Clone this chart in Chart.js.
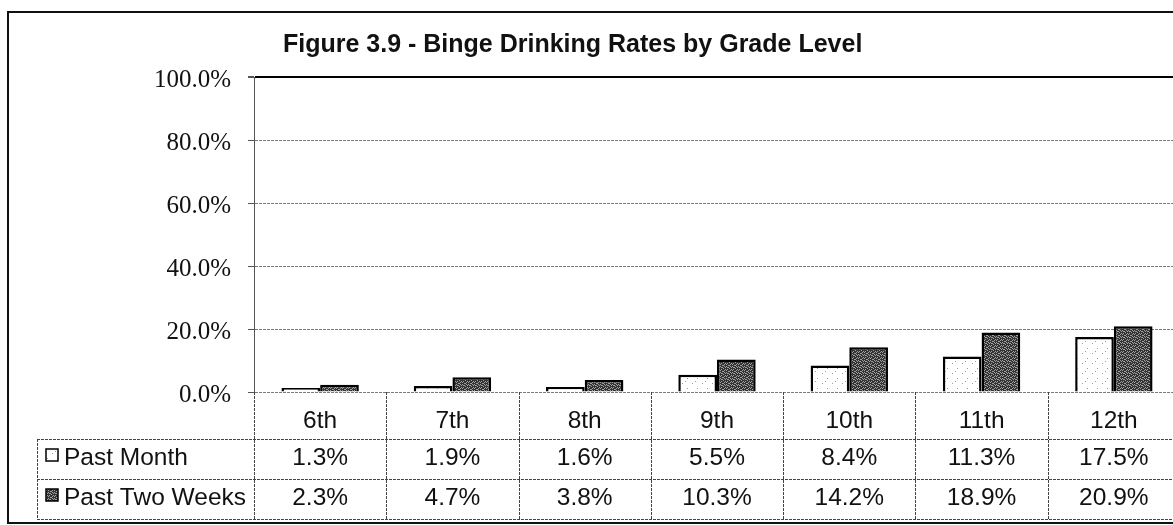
<!DOCTYPE html>
<html><head><meta charset="utf-8">
<script src="https://cdn.jsdelivr.net/npm/chart.js@4.4.1/dist/chart.umd.min.js"></script>
<style>html,body{margin:0;padding:0;background:#fff;overflow:hidden;} #wrap{width:1200px;height:525px;}</style>
</head><body><div id="wrap"><canvas id="c" width="1200" height="525"></canvas></div>
<script>
const titleText = 'Figure 3.9 - Binge Drinking Rates by Grade Level';
const grades = ['6th', '7th', '8th', '9th', '10th', '11th', '12th'];
const seriesNames = ['Past Month', 'Past Two Weeks'];
const pastMonth = [1.3, 1.9, 1.6, 5.5, 8.4, 11.3, 17.5];
const pastTwoWeeks = [2.3, 4.7, 3.8, 10.3, 14.2, 18.9, 20.9];
const yMin = 0, yMax = 100, yStep = 20;

function makePattern(bg, fg, pts, size) {
  const c = document.createElement('canvas');
  c.width = size; c.height = size;
  const g = c.getContext('2d');
  g.fillStyle = bg; g.fillRect(0, 0, size, size);
  g.fillStyle = fg;
  pts.forEach(p => g.fillRect(p[0], p[1], 1, 1));
  return g.createPattern(c, 'repeat');
}
const lightPat = makePattern('#ffffff', '#9a9a9a', [[2,3],[7,8],[5,1]], 10);
const darkPat = makePattern('#333333', '#a0a0a0',
  [[0,0],[2,1],[4,0],[1,3],[3,2],[5,3],[0,4],[2,5],[4,4],[5,1],[1,1],[3,5]], 6);

const fmt = v => v.toFixed(1) + '%';

const frameTable = {
  id: 'frameTable',
  afterDraw(chart) {
    const ctx = chart.ctx;
    const xs = chart.scales.x;
    const ca = chart.chartArea;
    ctx.save();
    // outer frame
    ctx.strokeStyle = '#111'; ctx.lineWidth = 2; ctx.setLineDash([]);
    ctx.strokeRect(8, 12, 1185, 511);
    // title
    ctx.fillStyle = '#111';
    ctx.font = 'bold 25px "Liberation Sans", Arial, sans-serif';
    ctx.textAlign = 'left'; ctx.textBaseline = 'alphabetic';
    ctx.fillText(titleText, 283, 52);

    // table grid
    const step = xs.getPixelForValue(1) - xs.getPixelForValue(0);
    const rowTops = [439, 479];
    const bottom = 519;
    const tableLeft = 37;
    ctx.strokeStyle = '#444'; ctx.lineWidth = 1; ctx.setLineDash([3, 1]);
    ctx.beginPath();
    rowTops.concat([bottom]).forEach(y => { ctx.moveTo(tableLeft, y + 0.5); ctx.lineTo(ca.right, y + 0.5); });
    ctx.moveTo(tableLeft + 0.5, rowTops[0]); ctx.lineTo(tableLeft + 0.5, bottom);
    for (let i = 0; i <= grades.length; i++) {
      const x = Math.round(xs.getPixelForValue(i) - step / 2) + 0.5;
      ctx.moveTo(x, ca.bottom); ctx.lineTo(x, bottom);
    }
    ctx.stroke();
    ctx.setLineDash([]);

    // legend column
    const baselines = [465, 505];
    const pats = [lightPat, darkPat];
    ctx.font = '24.5px "Liberation Sans", Arial, sans-serif';
    seriesNames.forEach((name, r) => {
      ctx.fillStyle = pats[r];
      ctx.fillRect(46, baselines[r] - 16, 12, 12);
      ctx.strokeStyle = '#000'; ctx.lineWidth = 1.5;
      ctx.strokeRect(46, baselines[r] - 16, 12, 12);
      ctx.fillStyle = '#111'; ctx.textAlign = 'left';
      ctx.fillText(name, 64, baselines[r]);
    });
    // values
    const rows = [pastMonth, pastTwoWeeks];
    ctx.textAlign = 'center';
    rows.forEach((vals, r) => {
      vals.forEach((v, i) => {
        ctx.fillText(fmt(v), xs.getPixelForValue(i), baselines[r]);
      });
    });
    ctx.restore();
  }
};

new Chart(document.getElementById('c'), {
  type: 'bar',
  data: {
    labels: grades,
    datasets: [
      { label: seriesNames[0], data: pastMonth, backgroundColor: lightPat, borderColor: '#000', borderWidth: 2.5 },
      { label: seriesNames[1], data: pastTwoWeeks, backgroundColor: darkPat, borderColor: '#000', borderWidth: 2.5 }
    ]
  },
  options: {
    responsive: false,
    animation: false,
    devicePixelRatio: 1,
    categoryPercentage: 0.585,
    barPercentage: 1.0,
    layout: { padding: { left: 0, right: 20, top: 77, bottom: 0 } },
    plugins: { legend: { display: false }, title: { display: false }, tooltip: { enabled: false } },
    scales: {
      x: {
        grid: { display: false },
        border: { display: false },
        ticks: { color: '#111', font: { family: '"Liberation Sans", Arial, sans-serif', size: 24.5 }, padding: 7, maxRotation: 0 },
        afterFit: s => { s.height = 133; }
      },
      y: {
        min: yMin, max: yMax,
        ticks: { stepSize: yStep, callback: v => fmt(v), color: '#111', padding: 17, labelOffset: 3,
                 font: { family: '"Liberation Serif", "Times New Roman", serif', size: 25 } },
        grid: {
          color: c => (c.tick && c.tick.value === yMax) ? '#000' : '#7a7a7a',
          lineWidth: c => (c.tick && c.tick.value === yMax) ? 2 : 1,
          tickLength: 6, tickColor: '#555'
        },
        border: { display: true, color: '#555', width: 1,
                  dash: c => (c.tick && c.tick.value === yMax) ? [] : [3, 1] },
        afterFit: s => { s.width = 254; }
      }
    }
  },
  plugins: [frameTable]
});
</script>
</body></html>
